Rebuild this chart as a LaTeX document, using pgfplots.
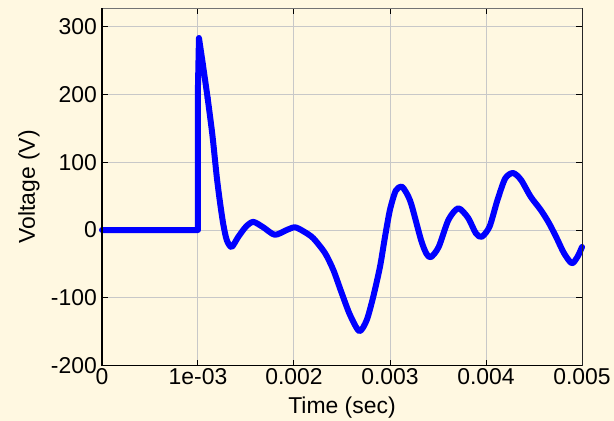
\documentclass[border=0pt]{standalone}
\usepackage{pgfplots}
\pgfplotsset{compat=1.18}
\usepackage{fontspec}
\setmainfont{Liberation Sans}
\definecolor{bgc}{RGB}{255,248,225}
\definecolor{gridc}{RGB}{200,200,200}
\begin{document}
\fontsize{23}{27}\selectfont
\begin{tikzpicture}
\useasboundingbox (-102bp,-55.3bp) rectangle (512bp,365.7bp);
\fill[bgc] (-102bp,-55.3bp) rectangle (512bp,365.7bp);
\begin{axis}[
  at={(0,0)}, anchor=south west,
  scale only axis, width=480bp, height=357.4bp,
  xmin=0, xmax=0.005, ymin=-200, ymax=326.8,
  xtick={0,0.001,0.002,0.003,0.004,0.005},
  xticklabels={0,1e-03,0.002,0.003,0.004,0.005},
  ytick={-200,-100,0,100,200,300},
  yticklabels={-200,-100,0,100,200,300},
  scaled x ticks=false,
  grid=major,
  major grid style={gridc, line width=1bp},
  axis line style={draw=none},
  tick align=inside,
  major tick length=6bp,
  tick style={black, line width=1bp},
  xticklabel style={anchor=north, inner sep=0pt, yshift=-3bp},
  yticklabel style={anchor=east, inner sep=0pt, xshift=-5bp},
  clip=false,
  axis background/.style={fill=bgc},
]
\addplot[blue, line width=6bp, line join=round, line cap=round] coordinates {
(0,0) (0.001,0) (0.001,214) (0.00101,283) (0.00105,245) (0.0011,195)
};
\addplot[blue, line width=6bp, line join=round, line cap=round, smooth, tension=0.45] coordinates {
(0.0011,195) (0.00115,140) (0.001195,79) (0.00123,40) (0.001264,8) (0.0013,-15)
(0.00135,-25) (0.00142,-10) (0.0015,5) (0.001576,12) (0.00168,4) (0.0018,-7)
(0.001924,0) (0.00201,4) (0.0021,-2) (0.0022,-12) (0.002323,-34) (0.00241,-59)
(0.002497,-93) (0.002583,-125) (0.00268,-149) (0.002757,-133) (0.002826,-98)
(0.002896,-54) (0.002948,-10) (0.003,30)
(0.00306,58) (0.00312,64) (0.00317,55) (0.003222,38) (0.003324,-15) (0.00338,-35)
(0.003426,-40) (0.003507,-25) (0.003609,15) (0.003711,32) (0.003813,18)
(0.003895,-5) (0.003956,-10) (0.004037,5) (0.004119,44) (0.0042,76) (0.004282,84)
(0.004364,74) (0.004466,49) (0.004568,30) (0.004649,12) (0.00473,-10)
(0.004812,-34) (0.004894,-49) (0.004955,-39) (0.005,-25)
};
\draw[black!55, line width=1bp] (rel axis cs:0,1) -- (rel axis cs:1,1);
\draw[black!85, line width=1bp] (rel axis cs:1,0) -- (rel axis cs:1,1);
\draw[black, line width=1.2bp] (rel axis cs:0,1) -- (rel axis cs:0,0) -- (rel axis cs:1,0);
\node[rotate=90, anchor=center] at ([xshift=-73bp]rel axis cs:0,0.5) {Voltage (V)};
\node[anchor=center] at ([yshift=-42bp]rel axis cs:0.5,0) {Time (sec)};
\end{axis}
\end{tikzpicture}
\end{document}
